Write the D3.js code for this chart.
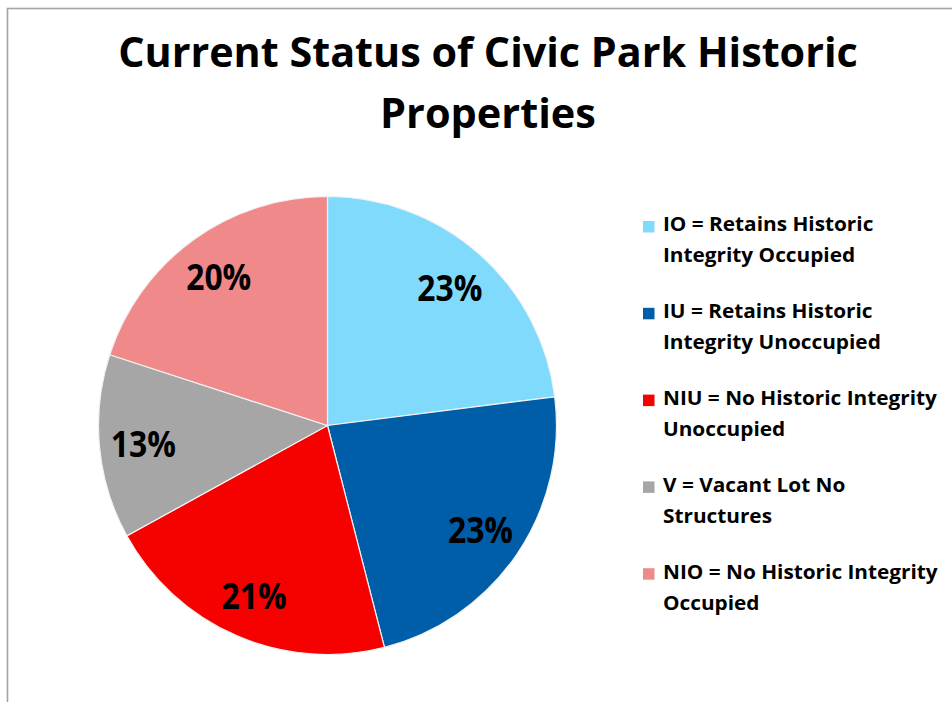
<!DOCTYPE html>
<html>
<head>
<meta charset="utf-8">
<script src="https://cdn.jsdelivr.net/npm/d3@7"></script>
<style>
  html, body { margin: 0; padding: 0; background: #fff; }
  svg { display: block; }
  text { font-family: "Open Sans", Lato, "Noto Sans", sans-serif; font-weight: bold; fill: #000; }
</style>
</head>
<body>
<svg id="chart" width="952" height="702"></svg>
<script>
const titleLines = ["Current Status of Civic Park Historic", "Properties"];
const categories = ["IO", "IU", "NIU", "V", "NIO"];
const values = [23, 23, 21, 13, 20];
const legendLabels = [
  ["IO = Retains Historic", "Integrity Occupied"],
  ["IU = Retains Historic", "Integrity Unoccupied"],
  ["NIU = No Historic Integrity", "Unoccupied"],
  ["V = Vacant Lot No", "Structures"],
  ["NIO = No Historic Integrity", "Occupied"]
];
const colors = ["#7fdafb", "#005ea9", "#f70000", "#a6a6a6", "#f08a8a"];

const svg = d3.select("#chart");

// frame
svg.append("rect")
  .attr("x", 7.5).attr("y", 8.5)
  .attr("width", 980).attr("height", 740)
  .attr("fill", "#fff")
  .attr("stroke", "#a3a3a3").attr("stroke-width", 1.6);

// helper: fit text horizontally to target width by scaling
function fitX(sel, targetW, anchorX) {
  const w = sel.node().getComputedTextLength();
  const sx = targetW / w;
  sel.attr("transform", `translate(${anchorX},0) scale(${sx},1) translate(${-anchorX},0)`);
}

// title
const titleW = [740, 216];
const titleY = [67, 128];
titleLines.forEach((t, i) => {
  const el = svg.append("text")
    .attr("x", 488).attr("y", titleY[i])
    .attr("text-anchor", "middle")
    .attr("font-size", 41)
    .text(t);
  fitX(el, titleW[i], 488);
});

// pie
const cx = 327.5, cy = 425.5, R = 229;
const pie = d3.pie().sort(null).value(d => d)(values);
const arc = d3.arc().innerRadius(0).outerRadius(R);
const labelArc = d3.arc().innerRadius(185).outerRadius(185);
const g = svg.append("g").attr("transform", `translate(${cx},${cy})`);
g.selectAll("path.slice").data(pie).enter().append("path")
  .attr("class", "slice")
  .attr("d", arc)
  .attr("fill", (d, i) => colors[i])
  .attr("stroke", "#f2f2f2").attr("stroke-width", 1.2);

const total = d3.sum(values);
g.selectAll("text.lbl").data(pie).enter().append("text")
  .attr("class", "lbl")
  .attr("text-anchor", "middle")
  .attr("dy", "0.4em")
  .attr("font-size", 35)
  .attr("transform", d => {
    const [x, y] = labelArc.centroid(d);
    return `translate(${x},${y}) scale(0.91,1)`;
  })
  .text(d => Math.round(d.value / total * 100) + "%");

// legend
const lx = 643, ly0 = 221, step = 86.8;
const legendFont = 20;
const legend = svg.append("g");
const probe = legend.append("text").attr("font-size", legendFont).text(legendLabels[2][0]);
const sxL = 274 / probe.node().getComputedTextLength();
probe.remove();
legendLabels.forEach((lines, i) => {
  const y = ly0 + i * step;
  legend.append("rect")
    .attr("x", lx).attr("y", y)
    .attr("width", 11.5).attr("height", 11.5)
    .attr("fill", colors[i]);
  lines.forEach((t, j) => {
    legend.append("text")
      .attr("x", 663).attr("y", y + 10.5 + j * 31)
      .attr("font-size", legendFont)
      .attr("transform", `translate(663,0) scale(${sxL},1) translate(-663,0)`)
      .text(t);
  });
});
</script>
</body>
</html>
